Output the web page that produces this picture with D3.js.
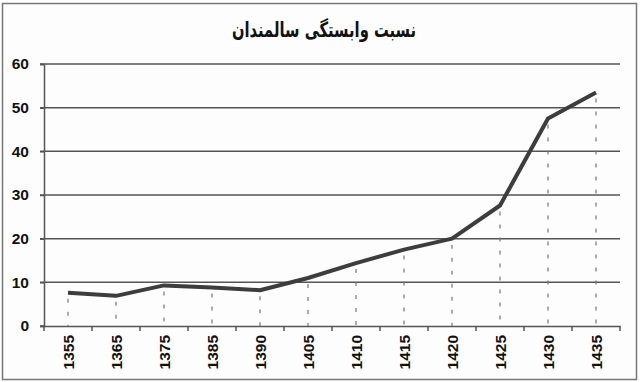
<!DOCTYPE html>
<html><head><meta charset="utf-8">
<script src="https://cdn.jsdelivr.net/npm/d3@7"></script>
<style>body{margin:0;background:#fff}svg{display:block}</style>
</head><body>
<svg id="c" width="640" height="382"></svg>
<script>
const categories = ["1355","1365","1375","1385","1390","1405","1410","1415","1420","1425","1430","1435"];
const values = [7.6, 6.9, 9.3, 8.8, 8.2, 11.0, 14.4, 17.5, 20.0, 27.6, 47.5, 53.5];
const yTicks = [0,10,20,30,40,50,60];
const title = "نسبت وابستگی سالمندان";

(function(){
const svg = d3.select("#c");
svg.append("rect").attr("x",2.5).attr("y",3.5).attr("width",634).attr("height",376)
  .attr("fill","#fdfdfd").attr("stroke","#777").attr("stroke-width",1.5);

const mL=44, mR=620, mT=64, mB=326;
const x = d3.scaleBand().domain(categories).range([mL,mR]);
const y = d3.scaleLinear().domain([0,60]).range([mB,mT]);

// gridlines
svg.append("g").selectAll("line").data(yTicks.filter(d=>d>0)).join("line")
  .attr("x1",mL-4).attr("x2",mR).attr("y1",d=>y(d)).attr("y2",d=>y(d))
  .attr("stroke","#555").attr("stroke-width",1.5);

// y axis
const ya = svg.append("g").attr("transform",`translate(${mL},0)`)
  .call(d3.axisLeft(y).tickValues(yTicks).tickSize(4).tickPadding(11));
ya.select(".domain").attr("stroke","#555").attr("stroke-width",1.5);
ya.selectAll(".tick line").attr("stroke","#555").attr("stroke-width",1.5);
ya.selectAll("text").attr("font-family","Liberation Sans, Arial, sans-serif")
  .attr("font-weight","bold").attr("font-size",15.5).attr("fill","#111");

// x axis
const xa = svg.append("g").attr("transform",`translate(0,${mB})`)
  .call(d3.axisBottom(x).tickSize(0).tickPadding(0));
xa.select(".domain").attr("stroke","#555").attr("stroke-width",1.5);
xa.append("g").selectAll("line").data(d3.range(categories.length+1)).join("line")
  .attr("x1",i=>mL+i*x.step()).attr("x2",i=>mL+i*x.step())
  .attr("y1",0).attr("y2",5).attr("stroke","#555").attr("stroke-width",1.5);
xa.append("line").attr("x1",mL-4).attr("x2",mL).attr("stroke","#555").attr("stroke-width",1.5);
xa.selectAll(".tick text")
  .attr("transform","rotate(-90)")
  .attr("x",-9).attr("y",1).attr("dy","0.35em")
  .attr("text-anchor","end")
  .attr("font-family","Liberation Sans, Arial, sans-serif")
  .attr("font-weight","bold").attr("font-size",15.5).attr("fill","#111");

// drop lines
svg.append("g").selectAll("line").data(categories).join("line")
  .attr("x1",d=>x(d)+x.bandwidth()/2).attr("x2",d=>x(d)+x.bandwidth()/2)
  .attr("y1",(d,i)=>y(values[i])+6).attr("y2",mB)
  .attr("stroke","#777").attr("stroke-width",1.2).attr("stroke-dasharray","4,9");

// line
const line = d3.line().x((d,i)=>x(categories[i])+x.bandwidth()/2).y(d=>y(d));
svg.append("path").datum(values).attr("d",line)
  .attr("fill","none").attr("stroke","#3d3d3d").attr("stroke-width",4)
  .attr("stroke-linejoin","round");

// title
svg.append("text").attr("x",324).attr("y",37).attr("text-anchor","middle")
  .attr("direction","rtl")
  .attr("textLength",184).attr("lengthAdjust","spacingAndGlyphs")
  .attr("font-family","DejaVu Sans, sans-serif").attr("font-weight","bold")
  .attr("font-size",21).attr("fill","#111").text(title);
})();
</script>
</body></html>
